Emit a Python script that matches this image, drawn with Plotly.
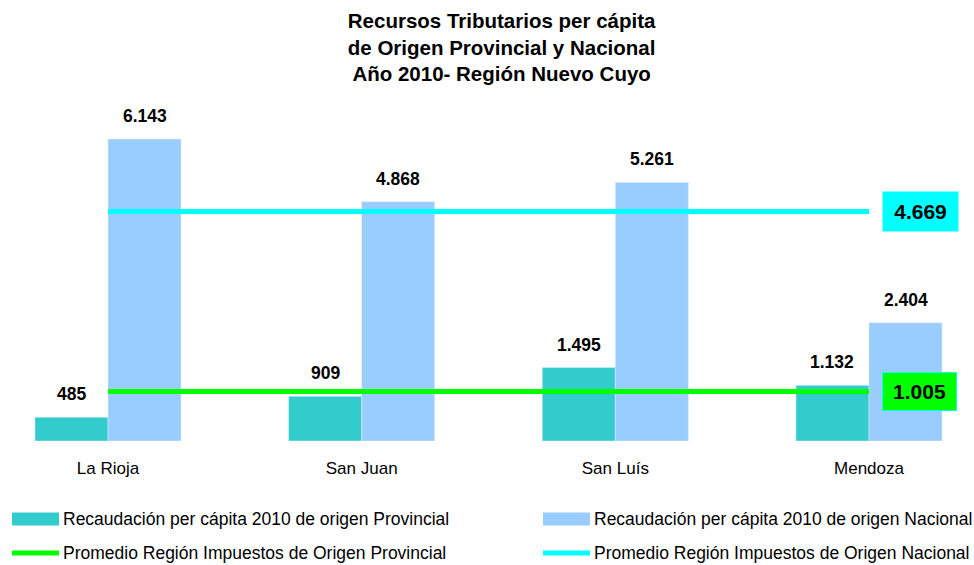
import plotly.graph_objects as go

categories = ["La Rioja", "San Juan", "San Luís", "Mendoza"]
provincial = [485, 909, 1495, 1132]
nacional = [6143, 4868, 5261, 2404]
prom_provincial = 1005
prom_nacional = 4669

series_names = [
    "Recaudación per cápita 2010 de origen Provincial",
    "Recaudación per cápita 2010 de origen Nacional",
    "Promedio Región Impuestos de Origen Provincial",
    "Promedio Región Impuestos de Origen Nacional",
]

TEAL = "#33CCCC"
LBLUE = "#99CCFF"
GREEN = "#00FF00"
CYAN = "#00FFFF"

W, H = 974, 565
ML, MR, MT, MB = 0, 0, 97, 124
PH = H - MT - MB
YMAX = 7000
FONT = "Liberation Sans, Arial, sans-serif"


def fmt(v):
    return f"{v:,.0f}".replace(",", ".")


def px_x(px):
    return (px - ML) / (W - ML - MR)


def px_y(py):
    return (H - MB - py) / PH


fig = go.Figure()
fig.add_trace(go.Bar(
    x=categories, y=provincial, name=series_names[0], marker_color=TEAL,
    showlegend=False,
))
fig.add_trace(go.Bar(
    x=categories, y=nacional, name=series_names[1], marker_color=LBLUE,
    showlegend=False,
))
fig.add_trace(go.Scatter(
    x=categories, y=[prom_provincial] * len(categories), mode="lines",
    name=series_names[2], line=dict(color=GREEN, width=5), showlegend=False,
    cliponaxis=False,
))
fig.add_trace(go.Scatter(
    x=categories, y=[prom_nacional] * len(categories), mode="lines",
    name=series_names[3], line=dict(color=CYAN, width=5), showlegend=False,
    cliponaxis=False,
))

# x range: category 0 centred at 108px, category 3 at 869px
unit = (869 - 108) / 3
x0 = -(108 - ML) / unit
x1 = x0 + (W - ML - MR) / unit
BARGAP = 0.424
half_bar_px = (1 - BARGAP) / 4 * unit

annotations = []
# value labels above bars
for cat, pv, nv in zip(categories, provincial, nacional):
    for val, sign in ((pv, -1), (nv, 1)):
        annotations.append(dict(
            x=cat, xref="x", y=val, yref="y", xshift=sign * half_bar_px,
            yshift=11, yanchor="bottom", xanchor="center",
            text=f"<b>{fmt(val)}</b>", showarrow=False,
            font=dict(size=17.5, color="black", family=FONT),
        ))

# average value boxes
annotations.append(dict(
    x=px_x(920), xref="paper", y=prom_nacional, yref="y",
    text=f"<b>{fmt(prom_nacional)}</b>", showarrow=False,
    font=dict(size=21, color="black", family=FONT),
    bgcolor=CYAN, width=73, height=37, xanchor="center", yanchor="middle",
))
annotations.append(dict(
    x=px_x(919), xref="paper", y=prom_provincial, yref="y",
    text=f"<b>{fmt(prom_provincial)}</b>", showarrow=False,
    font=dict(size=21, color="black", family=FONT),
    bgcolor=GREEN, bordercolor=CYAN, borderwidth=1, width=71, height=35,
    xanchor="center", yanchor="middle",
))

# manual legend
shapes = []
legend_cols = [12, 543]
legend_rows = [519, 553]
legend_items = [
    (0, 0, "bar", TEAL),
    (1, 0, "bar", LBLUE),
    (0, 1, "line", GREEN),
    (1, 1, "line", CYAN),
]
for (col, row, kind, color), name in zip(legend_items, series_names):
    lx = legend_cols[col]
    ly = legend_rows[row]
    if kind == "bar":
        shapes.append(dict(
            type="rect", xref="paper", yref="paper",
            x0=px_x(lx), x1=px_x(lx + 47), y0=px_y(ly - 6.5), y1=px_y(ly + 6.5),
            fillcolor=color, line=dict(width=0),
        ))
    else:
        shapes.append(dict(
            type="line", xref="paper", yref="paper",
            x0=px_x(lx), x1=px_x(lx + 47), y0=px_y(ly), y1=px_y(ly),
            line=dict(color=color, width=5),
        ))
    annotations.append(dict(
        x=px_x(lx + 49), xref="paper", y=px_y(ly), yref="paper",
        text=name, showarrow=False, xanchor="left", yanchor="middle",
        font=dict(size=17.5, color="black", family=FONT),
    ))

fig.update_layout(
    width=W, height=H,
    margin=dict(l=ML, r=MR, t=MT, b=MB),
    paper_bgcolor="white", plot_bgcolor="white",
    font=dict(family=FONT, color="black"),
    title=dict(
        text="<b>Recursos Tributarios per cápita<br>de Origen Provincial y Nacional<br>Año 2010- Región Nuevo Cuyo</b>",
        x=0.515, xanchor="center", y=1 - 28 / H, yanchor="top", yref="container",
        font=dict(size=20.5, color="black", family=FONT),
    ),
    barmode="group", bargap=BARGAP, bargroupgap=0,
    xaxis=dict(
        range=[x0, x1], showgrid=False, zeroline=False, showline=False,
        ticks="outside", ticklen=12, tickcolor="rgba(0,0,0,0)",
        tickfont=dict(size=17, color="black", family=FONT),
    ),
    yaxis=dict(
        range=[0, YMAX], visible=False, showgrid=False, zeroline=False,
    ),
    shapes=shapes,
    annotations=annotations,
    showlegend=False,
)

fig.write_html(
    "out.html",
    config={"displayModeBar": False},
    post_script="document.body.style.margin='0px';document.body.style.padding='0px';",
)
